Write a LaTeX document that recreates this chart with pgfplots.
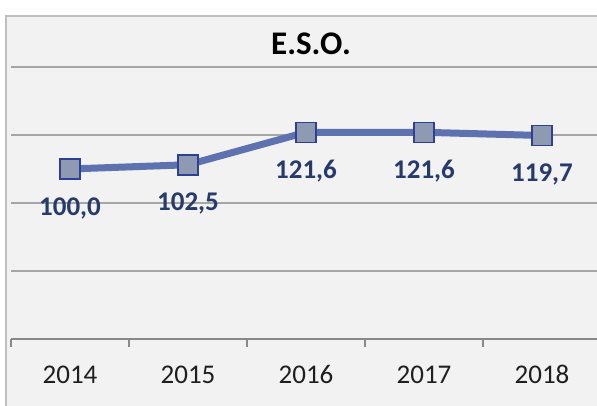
\documentclass[border=0pt]{standalone}
\usepackage{pgfplots}
\pgfplotsset{compat=1.18}
\usepackage{fontspec}
\setmainfont{Carlito}
\definecolor{bgcol}{HTML}{F2F2F2}
\definecolor{framecol}{HTML}{BFBFBF}
\definecolor{gridcol}{HTML}{A6A6A6}
\definecolor{axiscol}{HTML}{898989}
\definecolor{linecol}{HTML}{5E72B0}
\definecolor{markfill}{HTML}{8E9AB2}
\definecolor{markdraw}{HTML}{2E3F98}
\definecolor{labcol}{HTML}{263A6C}
\begin{document}
\begin{tikzpicture}[x=1pt,y=1pt]
\useasboundingbox (0,0) rectangle (597,405);
\clip (0,0) rectangle (597,405);
\fill[white] (0,0) rectangle (597,405);
\filldraw[fill=bgcol, draw=framecol, line width=1.3pt] (6,-20) rectangle (620,389);
\node[font=\fontsize{33}{38}\selectfont\bfseries, text=black] at (311,361) {E.S.O.};
\begin{axis}[
  at={(11pt,66pt)}, anchor=south west,
  scale only axis, width=590pt, height=272pt,
  xmin=-0.5, xmax=4.5, ymin=0, ymax=160,
  axis x line*=bottom, axis y line*=left,
  y axis line style={draw=none},
  x axis line style={draw=axiscol, line width=1.3pt},
  xtick={0,1,2,3,4},
  xticklabels={2014,2015,2016,2017,2018},
  xtick style={draw=none},
  major tick length=0pt,
  ytick={40,80,120,160},
  yticklabels={},
  ytick style={draw=none},
  ymajorgrids,
  grid style={draw=gridcol, line width=1.3pt},
  extra x ticks={-0.5,0.5,1.5,2.5,3.5,4.5},
  extra x tick labels={},
  extra x tick style={major tick length=8pt, tick align=outside, xtick style={draw=axiscol, line width=1.3pt}, grid=none},
  ticklabel style={font=\fontsize{27}{32}\selectfont, text=black!88},
  xticklabel style={yshift=-23pt},
  clip=false,
  axis background/.style={fill=none},
]
\addplot[color=linecol, line width=7pt, mark=square*,
  mark size=10pt,
  mark options={fill=markfill, draw=markdraw, line width=1.5pt},
  nodes near coords={\pgfmathprintnumber[fixed,fixed zerofill,precision=1,use comma,assume math mode=true]{\pgfplotspointmeta}},
  every node near coord/.append style={anchor=center, yshift=-39pt, font=\fontsize{27}{32}\selectfont\bfseries, text=labcol},
  point meta=explicit]
coordinates {(0,100.0) [100.0] (1,102.5) [102.5] (2,121.6) [121.6] (3,121.6) [121.6] (4,119.7) [119.7]};
\end{axis}
\end{tikzpicture}
\end{document}
